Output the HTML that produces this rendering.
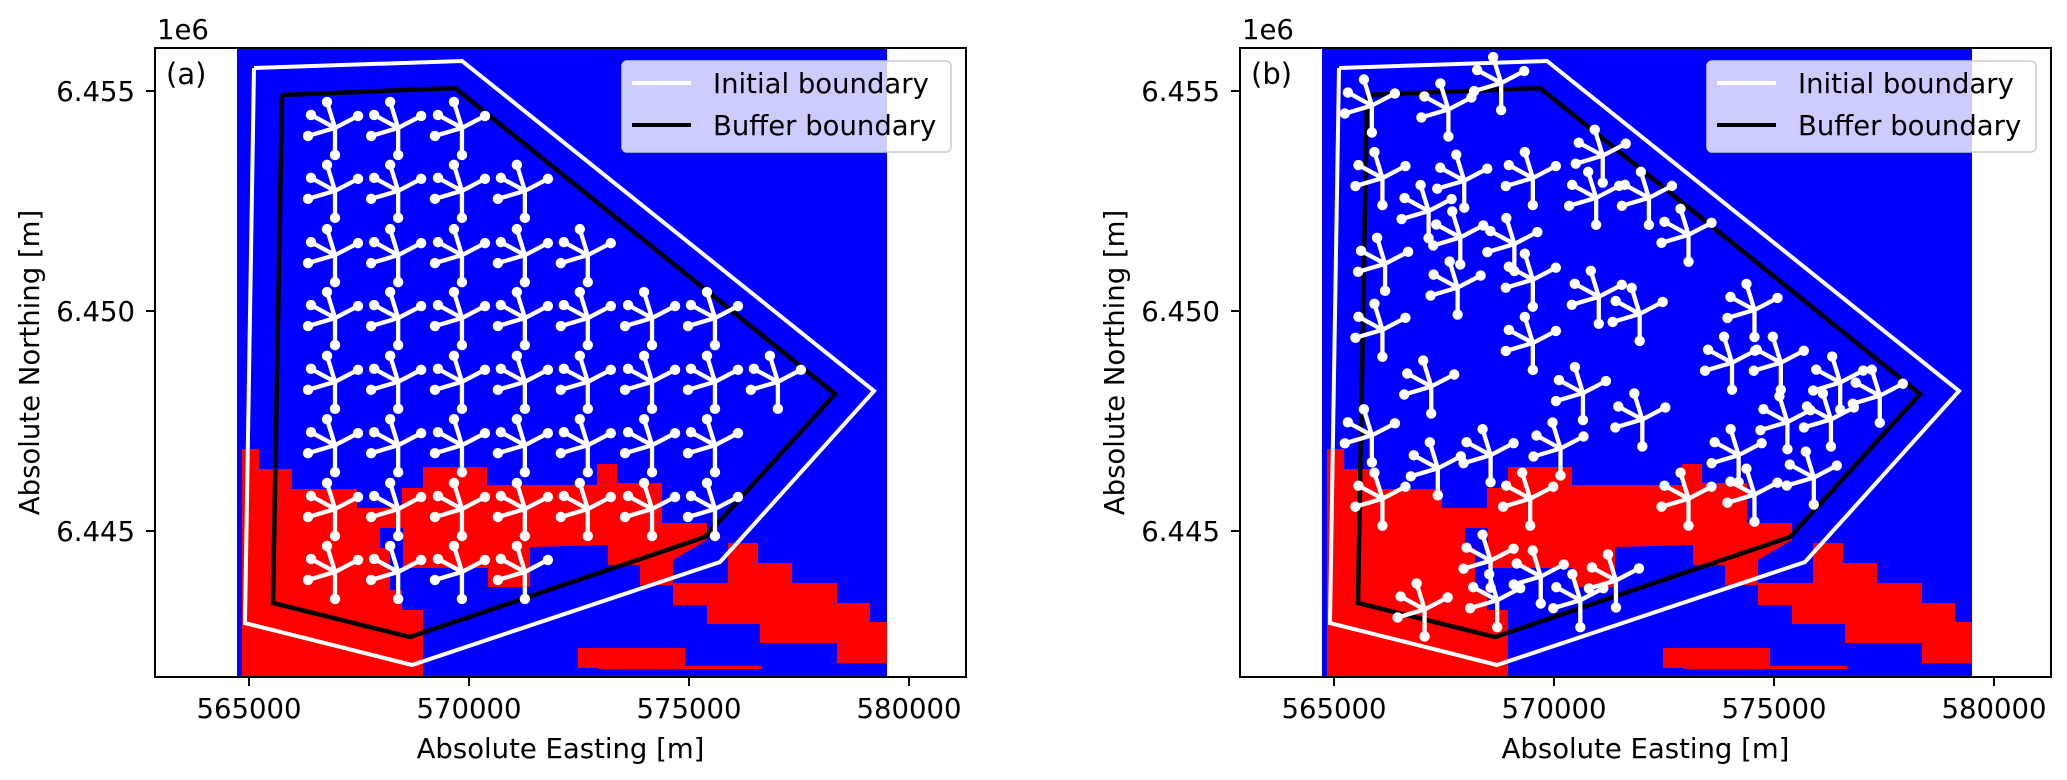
<!DOCTYPE html>
<html>
<head>
<meta charset="utf-8">
<style>
  html, body { margin:0; padding:0; background:#fff; }
  svg { display:block; }
  text { font-family: "DejaVu Sans", "Liberation Sans", sans-serif; fill:#000; }
</style>
</head>
<body>
<svg id="fig" width="2067" height="780" viewBox="0 0 2067 780" xmlns="http://www.w3.org/2000/svg"></svg>
<script>
// ---- axis config (data units, metres)
const xTicks = [565000, 570000, 575000, 580000];
const xTickLabels = ["565000", "570000", "575000", "580000"];
const yTicks = [6455000, 6450000, 6445000];
const yTickLabels = ["6.455", "6.450", "6.445"];
const xLim = [562864, 581295];
const yLim = [6441682, 6455977];

// ---- raster extent (blue background)
const rasterX = [564727, 579500];

// ---- red raster regions
const redA = [[564841,6441682],[564841,6446864],[565227,6446864],[565227,6446409],[565977,6446409],[565977,6445955],[567455,6445955],[567455,6445523],[568477,6445523],[568477,6445977],[568955,6445977],[568955,6446455],[570409,6446455],[570409,6446045],[572909,6446045],[572909,6446523],[573364,6446523],[573364,6446091],[574386,6446091],[574386,6445182],[575409,6445182],[575409,6444795],[574636,6444341],[574636,6443773],[573886,6443773],[573886,6444227],[573159,6444227],[573159,6444682],[571386,6444636],[571386,6443727],[570432,6443727],[570432,6444159],[568500,6444159],[568500,6445068],[567977,6445068],[567977,6444614],[568205,6444614],[568205,6443659],[568477,6443659],[568477,6443205],[568955,6443205],[568955,6441682]];
const redB = [[574636,6443818],[575886,6443818],[575886,6444727],[576568,6444727],[576568,6444273],[577341,6444273],[577341,6443818],[578364,6443818],[578364,6443364],[579114,6443364],[579114,6442932],[579500,6442932],[579500,6441999],[578364,6441999],[578364,6442455],[576614,6442455],[576614,6442886],[575409,6442886],[575409,6443318],[574636,6443318]];
const redC = [[572477,6442341],[574909,6442341],[574909,6441886],[572477,6441886]];
const redD = [[572932,6441932],[576659,6441932],[576659,6441864],[572932,6441864]];
const redRegions = [redA, redB, redC, redD];

// ---- boundaries
const initialBoundary = [[565114,6455523],[569841,6455682],[579205,6448182],[575705,6444295],[568705,6441955],[564909,6442909],[565114,6455523]];
const bufferBoundary = [[565750,6454909],[569682,6455068],[578318,6448114],[575364,6444864],[568659,6442591],[565545,6443364],[565750,6454909]];

// ---- cluster centres (a) regular layout
const clustersA = [
 [566955,6454160],[568390,6454160],[569840,6454160],
 [566955,6452730],[568390,6452730],[569840,6452730],[571270,6452730],
 [566955,6451270],[568390,6451270],[569840,6451270],[571270,6451270],[572700,6451270],
 [566955,6449840],[568390,6449840],[569840,6449840],[571270,6449840],[572700,6449840],[574160,6449840],[575590,6449840],
 [566955,6448390],[568390,6448390],[569840,6448390],[571270,6448390],[572700,6448390],[574160,6448390],[575590,6448390],[577020,6448390],
 [566955,6446950],[568390,6446950],[569840,6446950],[571270,6446950],[572700,6446950],[574160,6446950],[575590,6446950],
 [566955,6445500],[568390,6445500],[569840,6445500],[571270,6445500],[572700,6445500],[574160,6445500],[575590,6445500],
 [566955,6444070],[568390,6444070],[569840,6444070],[571270,6444070]
];
// ---- cluster centres (b) optimised layout
const clustersB = [
 [565861,6454670],[567600,6454580],[568799,6455180],[566101,6453021],[567960,6452961],[569519,6453021],
 [571108,6453530],[567150,6452271],[567870,6451672],[569099,6451522],[566161,6451072],[567810,6450532],
 [569519,6450712],[570958,6452571],[572157,6452571],[573057,6451732],[571018,6450323],[571947,6449933],
 [566101,6449573],[569519,6449273],[574556,6450023],[567210,6448284],[570658,6448134],[572007,6447535],
 [574046,6448824],[575155,6448824],[576504,6448374],[577404,6448074],[565861,6447174],[567360,6446424],
 [568559,6446724],[570148,6446875],[574196,6446724],[575305,6447474],[576294,6447535],[566101,6445735],
 [569459,6445735],[573057,6445735],[574556,6445825],[575905,6446214],[567060,6443217],[568559,6444326],
 [568709,6443427],[569699,6443966],[570598,6443427],[571408,6443876]
];

const NS = "http://www.w3.org/2000/svg";
const svg = document.getElementById('fig');
function mk(tag, attrs, parent) {
  const e = document.createElementNS(NS, tag);
  for (const k in attrs) e.setAttribute(k, attrs[k]);
  (parent || svg).appendChild(e);
  return e;
}
// spoke offsets in px
const spokes = [[-8,-26],[23,-12],[-24,-13],[-27,8],[0,27]];

const AX_W = 811, AX_H = 629, AX_TOP = 48;
const panels = [
  {ox: 0, label: "(a)", clusters: clustersA, name: "panel-a"},
  {ox: 1085, label: "(b)", clusters: clustersB, name: "panel-b"}
];

panels.forEach((p, pi) => {
  const left = 155 + p.ox, top = AX_TOP, right = left + AX_W, bottom = top + AX_H;
  const xs = m => left + (m - xLim[0]) / (xLim[1] - xLim[0]) * AX_W;
  const ys = m => bottom - (m - yLim[0]) / (yLim[1] - yLim[0]) * AX_H;
  const g = mk('g', {});
  
  

  const defs = mk('defs', {}, g);
  const cp = mk('clipPath', {id: 'clip' + pi}, defs);
  mk('rect', {x: left, y: top, width: AX_W, height: AX_H}, cp);
  const plot = mk('g', {'clip-path': 'url(#clip' + pi + ')'}, g);
  
  

  const bg = mk('rect', {x: xs(rasterX[0]), y: top, width: xs(rasterX[1]) - xs(rasterX[0]), height: AX_H, fill: '#0000ff'}, plot);
  
  

  redRegions.forEach((poly) => {
    const pts = poly.map(q => xs(q[0]).toFixed(1) + ',' + ys(q[1]).toFixed(1)).join(' ');
    const r = mk('polygon', {points: pts, fill: '#ff0000'}, plot);
    
    
  });

  const ib = mk('polyline', {points: initialBoundary.map(q => xs(q[0]) + ',' + ys(q[1])).join(' '), fill: 'none', stroke: '#fff', 'stroke-width': 4, 'stroke-linejoin': 'miter'}, plot);
  
  
  const bb = mk('polyline', {points: bufferBoundary.map(q => xs(q[0]) + ',' + ys(q[1])).join(' '), fill: 'none', stroke: '#000', 'stroke-width': 4.5, 'stroke-linejoin': 'miter'}, plot);
  
  

  p.clusters.forEach(c => {
    const cx = xs(c[0]), cy = ys(c[1]);
    const cg = mk('g', {}, plot);
    
    
    spokes.forEach(s => {
      mk('line', {x1: cx, y1: cy, x2: cx + s[0], y2: cy + s[1], stroke: '#fff', 'stroke-width': 4.3, 'stroke-linecap': 'round'}, cg);
    });
    spokes.forEach(s => {
      mk('circle', {cx: cx + s[0], cy: cy + s[1], r: 5.2, fill: '#fff'}, cg);
    });
  });

  const frame = mk('rect', {x: left, y: top, width: AX_W, height: AX_H, fill: 'none', stroke: '#000', 'stroke-width': 2}, g);
  
  

  xTicks.forEach((t, i) => {
    const x = xs(t);
    mk('line', {x1: x, y1: bottom, x2: x, y2: bottom + 9, stroke: '#000', 'stroke-width': 2}, g);
    const tl = mk('text', {x: x, y: bottom + 41, 'font-size': 27.5, 'text-anchor': 'middle'}, g);
    tl.textContent = xTickLabels[i];
    
    
  });
  yTicks.forEach((t, i) => {
    const y = ys(t);
    mk('line', {x1: left - 9, y1: y, x2: left, y2: y, stroke: '#000', 'stroke-width': 2}, g);
    const tl = mk('text', {x: left - 20, y: y + 10, 'font-size': 27.5, 'text-anchor': 'end'}, g);
    tl.textContent = yTickLabels[i];
    
    
  });

  const xl = mk('text', {x: (left + right) / 2, y: bottom + 81, 'font-size': 27.5, 'text-anchor': 'middle'}, g);
  xl.textContent = 'Absolute Easting [m]';
  
  
  const yx = 39 + p.ox, yy = (top + bottom) / 2;
  const yl = mk('text', {x: yx, y: yy, 'font-size': 27.5, 'text-anchor': 'middle', transform: 'rotate(-90 ' + yx + ' ' + yy + ')'}, g);
  yl.textContent = 'Absolute Northing [m]';
  
  

  const off = mk('text', {x: left + 2, y: 39, 'font-size': 27.5}, g);
  off.textContent = '1e6';
  
  

  const pl = mk('text', {x: left + 11, y: 84, 'font-size': 29}, g);
  pl.textContent = p.label;
  
  

  // legend
  const lg = mk('g', {}, g);
  
  
  const lx = left + 467, ly = 61;
  mk('rect', {x: lx, y: ly, width: 329, height: 91, rx: 5, fill: 'rgba(255,255,255,0.8)', stroke: '#cccccc', 'stroke-width': 1.5}, lg);
  const e1 = mk('g', {}, lg);
  
  
  mk('line', {x1: lx + 10, y1: ly + 22, x2: lx + 69, y2: ly + 22, stroke: '#fff', 'stroke-width': 4}, e1);
  const t1 = mk('text', {x: lx + 91, y: ly + 32, 'font-size': 27.5}, e1);
  t1.textContent = 'Initial boundary';
  const e2 = mk('g', {}, lg);
  
  
  mk('line', {x1: lx + 10, y1: ly + 64, x2: lx + 69, y2: ly + 64, stroke: '#000', 'stroke-width': 4}, e2);
  const t2 = mk('text', {x: lx + 91, y: ly + 74, 'font-size': 27.5}, e2);
  t2.textContent = 'Buffer boundary';
});
</script>
</body>
</html>
